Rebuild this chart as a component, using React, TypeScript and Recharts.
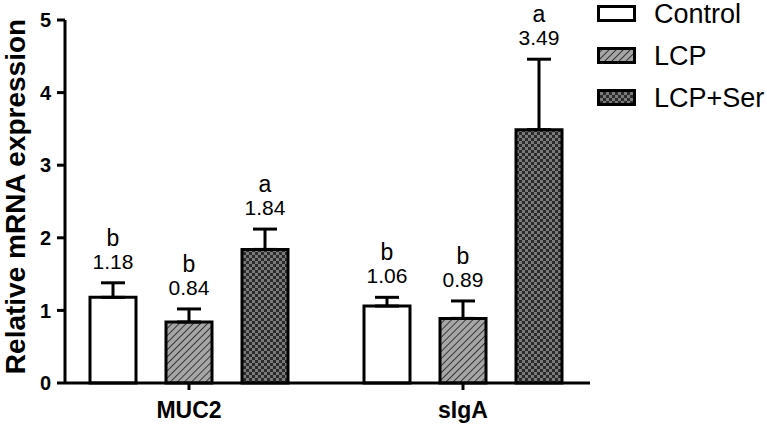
import { BarChart, Bar, XAxis, YAxis, ErrorBar, LabelList, Legend } from 'recharts'

const CATEGORIES = ['MUC2', 'sIgA']
const CONTROL = [1.18, 1.06]
const CONTROL_SD = [0.2, 0.12]
const LCP = [0.84, 0.89]
const LCP_SD = [0.18, 0.24]
const LCP_SER = [1.84, 3.49]
const LCP_SER_SD = [0.28, 0.97]
const CONTROL_SIG = ['b', 'b']
const LCP_SIG = ['b', 'b']
const LCP_SER_SIG = ['a', 'a']
const Y_TICKS = [0, 1, 2, 3, 4, 5]

const FONT = 'Arial, "Liberation Sans", sans-serif'

const data = CATEGORIES.map((name, i) => ({
  name,
  control: CONTROL[i],
  controlErr: [0, CONTROL_SD[i]],
  lcp: LCP[i],
  lcpErr: [0, LCP_SD[i]],
  ser: LCP_SER[i],
  serErr: [0, LCP_SER_SD[i]],
}))

const SERIES = [
  { key: 'control', name: 'Control', fill: '#ffffff', sd: CONTROL_SD, sig: CONTROL_SIG },
  { key: 'lcp', name: 'LCP', fill: 'url(#hatch)', sd: LCP_SD, sig: LCP_SIG },
  { key: 'ser', name: 'LCP+Ser', fill: 'url(#checker)', sd: LCP_SER_SD, sig: LCP_SER_SIG },
]

function Patterns({ suffix = '' }: { suffix?: string }) {
  return (
    <defs>
      <pattern id={'hatch' + suffix} patternUnits="userSpaceOnUse" width="5" height="5" patternTransform="rotate(45)">
        <rect width="5" height="5" fill="#a6a6a6" />
        <line x1="0" y1="0" x2="0" y2="5" stroke="#1a1a1a" strokeWidth="1.6" />
      </pattern>
      <pattern id={'checker' + suffix} patternUnits="userSpaceOnUse" width="6" height="6">
        <rect width="6" height="6" fill="#2b2b2b" />
        <rect x="0" y="0" width="3" height="3" fill="#7a7a7a" />
        <rect x="3" y="3" width="3" height="3" fill="#7a7a7a" />
      </pattern>
    </defs>
  )
}

// number + significance letter sit above the error-bar cap
const makeLabel = (sd: number[], sig: string[]) => (props: any) => {
  const { x, y, width, height, value, index } = props
  const perUnit = Number(height) / Number(value)
  const top = Number(y) - sd[index] * perUnit
  const cx = Number(x) + Number(width) / 2
  return (
    <g fontFamily={FONT} fill="#000" textAnchor="middle">
      <text x={cx} y={top - 37} fontSize={23}>{sig[index]}</text>
      <text x={cx} y={top - 14} fontSize={21}>{Number(value).toFixed(2)}</text>
    </g>
  )
}

function LegendBox() {
  return (
    <div style={{ fontFamily: FONT, lineHeight: '26px' }}>
      <svg width={40} height={0} style={{ position: 'absolute' }}>
        <Patterns suffix="L" />
      </svg>
      {SERIES.map(s => (
        <div key={s.key} style={{ display: 'flex', alignItems: 'center', height: 42 }}>
          <svg width={40} height={18} style={{ marginRight: 17 }}>
            <rect x={1.5} y={1.5} width={36} height={14} fill={s.fill === '#ffffff' ? '#fff' : s.fill.replace(')', 'L)')} stroke="#000" strokeWidth={3} />
          </svg>
          <span style={{ fontSize: 27, color: '#000' }}>{s.name}</span>
        </div>
      ))}
    </div>
  )
}

export default function App() {
  return (
    <div style={{ position: 'absolute', left: 0, top: 0, background: '#fff' }}>
      <BarChart width={767} height={424} data={data} margin={{ top: 20, right: 177, left: 0, bottom: 0 }} barSize={46} barGap={30}>
        <Patterns />
        <XAxis
          dataKey="name"
          height={41}
          padding={{ left: -13, right: -10 }}
          axisLine={{ stroke: '#000', strokeWidth: 3 }}
          tickLine={{ stroke: '#000', strokeWidth: 3 }}
          tickSize={7}
          tickMargin={12}
          tick={{ fill: '#000', fontSize: 23, fontWeight: 'bold', fontFamily: FONT }}
        />
        <YAxis
          width={65}
          domain={[0, 5]}
          ticks={Y_TICKS}
          interval={0}
          axisLine={{ stroke: '#000', strokeWidth: 3 }}
          tickLine={{ stroke: '#000', strokeWidth: 3 }}
          tickSize={8}
          tickMargin={6}
          tick={{ fill: '#000', fontSize: 20, fontWeight: 'bold', fontFamily: FONT }}
          label={{
            value: 'Relative mRNA expression',
            angle: -90,
            position: 'insideLeft',
            dx: 10,
            dy: -5,
            style: { textAnchor: 'middle', fill: '#000', fontSize: 28, fontWeight: 'bold', fontFamily: FONT },
          }}
        />
        <Legend
          layout="vertical"
          align="center"
          verticalAlign="middle"
          content={() => <LegendBox />}
          wrapperStyle={{ position: 'absolute', left: 597, top: -7, width: 170 }}
        />
        {SERIES.map(s => (
          <Bar key={s.key} dataKey={s.key} name={s.name} fill={s.fill} stroke="#000" strokeWidth={3} isAnimationActive={false}>
            <ErrorBar dataKey={s.key + 'Err'} width={12} stroke="#000" strokeWidth={3} direction="y" />
            <LabelList dataKey={s.key} content={makeLabel(s.sd, s.sig)} />
          </Bar>
        ))}
      </BarChart>
    </div>
  )
}
